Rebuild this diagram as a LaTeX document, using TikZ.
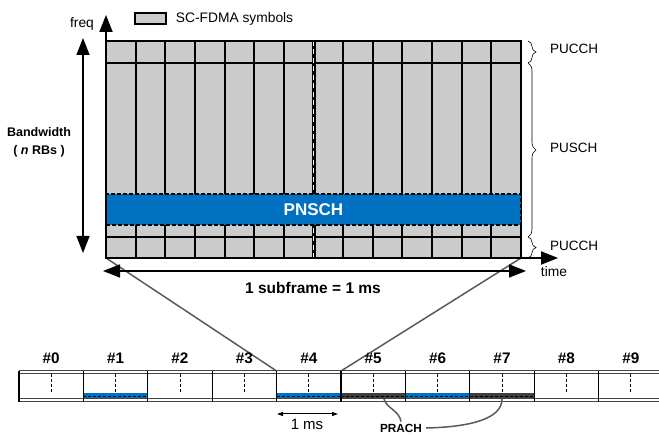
\documentclass[tikz,border=0pt]{standalone}
\usepackage{fontspec}
\setmainfont{Liberation Sans}
\usepackage{xcolor}
\usetikzlibrary{arrows.meta,positioning,decorations.pathreplacing,calc}
\definecolor{cellgray}{HTML}{CCCCCC}
\definecolor{pnschblue}{HTML}{0070C0}
\definecolor{projgray}{HTML}{5A5A5A}
\definecolor{prachgray}{HTML}{3F3F3F}
\definecolor{stripgray}{HTML}{444444}
\tikzset{
  gridline/.style={draw=black, line width=2pt},
  gridframe/.style={draw=black, line width=2.4pt},
  slotline/.style={draw=black, line width=4pt},
  slotdash/.style={draw=white, line width=1.5pt, dash pattern=on 5pt off 3.5pt},
  pnschband/.style={
    draw=black, fill=pnschblue, line width=1.3pt, dash pattern=on 4pt off 2pt,
    inner sep=0pt, text=white, font=\fontsize{17}{20}\selectfont\bfseries
  },
  legendbox/.style={
    draw=black, fill=cellgray, line width=1.3pt,
    minimum width=31pt, minimum height=11pt, inner sep=0pt
  },
  plainlabel/.style={inner sep=0pt, font=\fontsize{13.8}{16}\selectfont},
  boldlabel/.style={inner sep=0pt, align=center, font=\fontsize{12.5}{18}\selectfont\bfseries},
  spanlabel/.style={inner sep=0pt, font=\fontsize{15.5}{18}\selectfont\bfseries},
  sflabel/.style={inner sep=0pt, font=\fontsize{15.3}{18}\selectfont\bfseries},
  chanlabel/.style={inner sep=0pt, anchor=west, font=\fontsize{13.5}{16}\selectfont},
  axisarrow/.style={draw=black, line width=2pt, -{Triangle[length=17pt, width=13pt]}},
  spanarrow/.style={draw=black, line width=1.5pt, {Triangle[length=17pt, width=13pt]}-{Triangle[length=17pt, width=13pt]}},
  msarrow/.style={draw=black, line width=1pt, {Triangle[length=6pt, width=4pt]}-{Triangle[length=6pt, width=4pt]}},
  chanbrace/.style={decorate, decoration={brace, amplitude=8pt}, draw=black, line width=0.6pt},
  projline/.style={draw=projgray, line width=1.5pt},
  stripline/.style={draw=stripgray, line width=1pt},
  sfdivider/.style={draw=black, line width=1.3pt},
  sfmid/.style={draw=black, line width=0.8pt, dash pattern=on 3pt off 2pt}
}
\begin{document}
\begin{tikzpicture}[x=1pt,y=-1pt]
  \useasboundingbox (0,0) rectangle (659,435);

  \fill[cellgray] (106,41) rectangle (521,258);
  \foreach \c in {1,...,6,8,9,...,13}
    \draw[gridline] ({106+\c*29.643},41) -- ({106+\c*29.643},258);
  \draw[gridline] (106,63) -- (521,63);
  \draw[gridline] (106,237) -- (521,237);
  \draw[slotline] (313.5,41) -- (313.5,258);
  \draw[slotdash] (313.5,41) -- (313.5,258);
  \draw[gridframe] (106,41) rectangle (521,258);
  \node[pnschband, minimum width=415pt, minimum height=31pt] (pnsch) at (313.5,209.5) {PNSCH};

  \coordinate (origin) at (106,258);
  \coordinate (gridbr) at (521,258);
  \coordinate (freqtip) at (106,15);
  \coordinate (timetip) at (558,258);

  \node[legendbox] (legend) at (150.5,18.5) {};
  \node[plainlabel, anchor=west, right=9pt of legend] (legendtxt) {SC-FDMA symbols};
  \node[plainlabel] (freq) at (82,24) {freq};
  \node[plainlabel] (time) at (554,272) {time};
  \node[boldlabel] (bw) at (39,142) {Bandwidth\\( \textit{n} RBs )};

  \coordinate (bwtop) at (83,38);
  \coordinate (bwbot) at (83,253);
  \draw[spanarrow] (bwtop) -- (bwbot);

  \draw[chanbrace] (528,41) -- (528,63);
  \draw[chanbrace] (528,63) -- (528,237);
  \draw[chanbrace] (528,237) -- (528,258);
  \node[chanlabel] (pucchtop) at (550,48.5) {PUCCH};
  \node[chanlabel] (pusch) at (550,148) {PUSCH};
  \node[chanlabel] (pucchbot) at (550,246) {PUCCH};

  \coordinate (sf4left) at (276.6,371);
  \coordinate (sf5left) at (341,371);
  \draw[projline] (origin) -- (sf4left);
  \draw[projline] (gridbr) -- (sf5left);

  \draw[axisarrow] (origin) -- (freqtip);
  \draw[axisarrow] (origin) -- (timetip);

  \coordinate (subl) at (103,271);
  \coordinate (subr) at (526,271);
  \draw[spanarrow] (subl) -- (subr);
  \node[spanlabel] (subframe) at (313,288) {1 subframe = 1 ms};

  \foreach \i/\c in {1/pnschblue,4/pnschblue,6/pnschblue,5/prachgray,7/prachgray}{
    \fill[\c] ({19+\i*64.4},393.5) rectangle ({19+(\i+1)*64.4},399);
    \draw[black, line width=0.8pt, dash pattern=on 3pt off 2pt] ({19+\i*64.4},396.3) -- ({19+(\i+1)*64.4},396.3);
  }
  \draw[stripline] (19,371) -- (659,371);
  \draw[stripline] (19,374) -- (659,374);
  \draw[stripline] (19,399) -- (659,399);
  \draw[stripline] (19,402) -- (659,402);
  \foreach \i in {0,...,9}{
    \node[sflabel] (sf\i) at ({19+(\i+0.5)*64.4},358) {\#\i};
    \draw[sfmid] ({19+(\i+0.5)*64.4},374) -- ({19+(\i+0.5)*64.4},393);
    \draw[sfdivider] ({19+\i*64.4},371) -- ({19+\i*64.4},402);
  }

  \coordinate (msl) at (277,414);
  \coordinate (msr) at (338,414);
  \draw[msarrow] (msl) -- (msr);
  \node[plainlabel, font=\fontsize{15}{18}\selectfont] (ms) at (307,424.5) {1 ms};

  \node[inner sep=0pt, font=\fontsize{11.8}{14}\selectfont\bfseries] (prach) at (401,428) {PRACH};
  \coordinate (prach5) at (384,399);
  \coordinate (prach7) at (502,399);
  \draw[projline] (prach5) .. controls (387,409) and (399,410) .. ($(prach.north)+(0,-2)$);
  \draw[projline] ($(prach.east)+(4,0)$) .. controls (470,427) and (502,419) .. (prach7);
\end{tikzpicture}
\end{document}
